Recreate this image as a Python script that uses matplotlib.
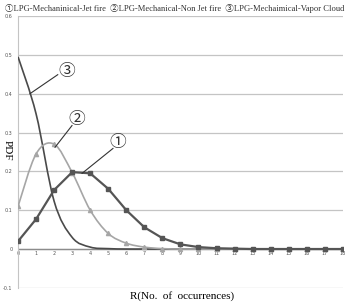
import numpy as np
import matplotlib.pyplot as plt
from matplotlib.path import Path
from matplotlib.patches import PathPatch

# data
r = list(range(19))
jet_fire = [0.020, 0.077, 0.152, 0.198, 0.195, 0.155, 0.100, 0.056, 0.028, 0.012,
            0.005, 0.002, 0.001, 0.0, 0.0, 0.0, 0.0, 0.0, 0.0]
non_jet_fire = [0.110, 0.245, 0.270, 0.197, 0.100, 0.040, 0.015, 0.005, 0.001, 0.0,
                0.0, 0.0, 0.0, 0.0, 0.0, 0.0, 0.0, 0.0, 0.0]
vapor_cloud = [0.495, 0.348, 0.123, 0.030, 0.005, 0.001, 0.0, 0.0, 0.0, 0.0,
               0.0, 0.0, 0.0, 0.0, 0.0, 0.0, 0.0, 0.0, 0.0]
yticks = [-0.1, 0, 0.1, 0.2, 0.3, 0.4, 0.5, 0.6]
title = "①LPG-Mechaninical-Jet fire  ②LPG-Mechanical-Non Jet fire  ③LPG-Mechaimical-Vapor Cloud"

serif = ['Liberation Serif', 'Noto Sans CJK JP']


def smooth_patch(x, y, color, lw):
    # excel-like smoothed line drawn as bezier segments
    x = np.asarray(x, float)
    y = np.asarray(y, float)
    n = len(x)
    verts = [(x[0], y[0])]
    codes = [Path.MOVETO]
    for i in range(n - 1):
        i0 = max(i - 1, 0)
        i3 = min(i + 2, n - 1)
        c1 = (x[i] + (x[i + 1] - x[i0]) / 6, y[i] + (y[i + 1] - y[i0]) / 6)
        c2 = (x[i + 1] - (x[i3] - x[i]) / 6, y[i + 1] - (y[i3] - y[i]) / 6)
        verts += [c1, c2, (x[i + 1], y[i + 1])]
        codes += [Path.CURVE4] * 3
    return PathPatch(Path(verts, codes), facecolor='none', edgecolor=color, lw=lw, zorder=3)


fig = plt.figure(figsize=(3.47, 3.03), dpi=100)
ax = fig.add_axes([0.052, 0.05, 0.936, 0.897])

ax.set_xlim(0, 18)
ax.set_ylim(-0.1, 0.6)
ax.set_yticks(yticks)
ax.set_yticklabels([str(v) for v in yticks])
ax.set_xticks(r)
ax.grid(axis='y', color='#c4c4c4', lw=0.9)
ax.set_axisbelow(True)
for s in ['top', 'right', 'bottom']:
    ax.spines[s].set_visible(False)
ax.spines['left'].set_color('#c4c4c4')
ax.axhline(0, color='#8c8c8c', lw=1.0, zorder=1)
ax.tick_params(axis='y', length=0, labelsize=3.5, labelcolor='#555555', pad=4)
ax.tick_params(axis='x', length=0, labelsize=3.5, labelcolor='#555555', pad=0)
for lab in ax.get_xticklabels():
    lab.set_y(0.135)

ax.add_patch(smooth_patch(r, vapor_cloud, '#4a4a4a', 1.2))
ax.add_patch(smooth_patch(r, non_jet_fire, '#a6a6a6', 1.2))
ax.plot(r, non_jet_fire, ls='none', marker='^', ms=3, color='#a6a6a6', zorder=4)
ax.plot(r, jet_fire, color='#555555', lw=1.6, marker='s', ms=3.5, zorder=5)

# callout labels: leader line from curve to label
callouts = [('③', (0.66, 0.40), (2.2, 0.449), (2.71, 0.456)),
            ('②', (2.05, 0.262), (2.99, 0.318), (3.27, 0.332)),
            ('①', (3.55, 0.195), (5.26, 0.259), (5.55, 0.272))]
for txt, p0, p1, pos in callouts:
    ax.plot([p0[0], p1[0]], [p0[1], p1[1]], color='#333333', lw=0.8, zorder=6)
    ax.text(pos[0], pos[1], txt, fontsize=12, family=serif, ha='center', va='center',
            color='#333333', zorder=6)

fig.text(0.503, 0.972, title, ha='center', va='center', fontsize=6.1, family=serif, color='#333333')
fig.text(0.022, 0.505, 'PDF', rotation=-90, ha='center', va='center', fontsize=8, family=serif)
fig.text(0.525, 0.022, 'R(No.  of  occurrences)', ha='center', va='center', fontsize=8, family=serif)

fig.savefig('out.png', dpi=100)
